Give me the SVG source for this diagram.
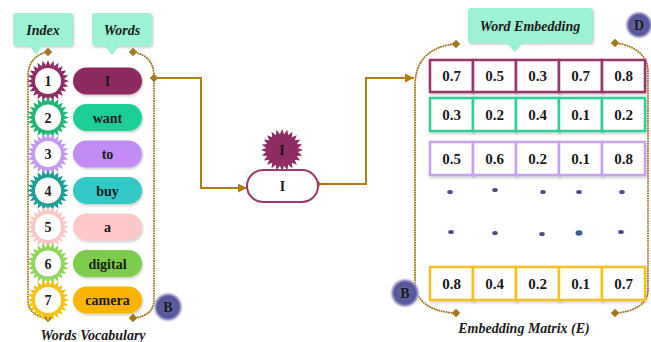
<svg xmlns="http://www.w3.org/2000/svg" xmlns:xlink="http://www.w3.org/1999/xlink" width="651" height="342" viewBox="0 0 651 342">
<style>
.t{font-family:"Liberation Serif","Times New Roman",serif;font-weight:bold;fill:#1a1a1a;text-anchor:middle}
.ti{font-family:"Liberation Serif","Times New Roman",serif;font-weight:bold;font-style:italic;fill:#1a1a1a;text-anchor:middle;font-size:14px}
.num{font-size:14px}
.val{font-size:15px}
.dot{fill:none;stroke:#a07820;stroke-width:2;stroke-dasharray:0.1 2.4;stroke-linecap:round}
.conn{fill:none;stroke:#b07d10;stroke-width:2}
.dia{fill:#a07820}
.call{fill:#9df2d4}
.cell{fill:#fff;stroke-width:2.5}
.edot{fill:#4e4c84}
</style>
<defs>
<polygon id="sun" points="21,0 15.86,2.09 20.28,5.44 14.78,6.12 18.19,10.5 12.69,9.74 14.85,14.85 9.74,12.69 10.5,18.19 6.12,14.78 5.44,20.28 2.09,15.86 0,21 -2.09,15.86 -5.44,20.28 -6.12,14.78 -10.5,18.19 -9.74,12.69 -14.85,14.85 -12.69,9.74 -18.19,10.5 -14.78,6.12 -20.28,5.44 -15.86,2.09 -21,0 -15.86,-2.09 -20.28,-5.44 -14.78,-6.12 -18.19,-10.5 -12.69,-9.74 -14.85,-14.85 -9.74,-12.69 -10.5,-18.19 -6.12,-14.78 -5.44,-20.28 -2.09,-15.86 0,-21 2.09,-15.86 5.44,-20.28 6.12,-14.78 10.5,-18.19 9.74,-12.69 14.85,-14.85 12.69,-9.74 18.19,-10.5 14.78,-6.12 20.28,-5.44 15.86,-2.09"/>
<radialGradient id="bg" cx="0.5" cy="0.5" r="0.5">
<stop offset="0" stop-color="#6a68aa"/>
<stop offset="0.7" stop-color="#57559a"/>
<stop offset="0.82" stop-color="#8a88bc"/>
<stop offset="1" stop-color="#d8d8ec" stop-opacity="0.3"/>
</radialGradient>
<filter id="sh" x="-20%" y="-20%" width="140%" height="140%">
<feDropShadow dx="1" dy="1.5" stdDeviation="1.2" flood-color="#000" flood-opacity="0.22"/>
</filter>
<marker id="arr" markerUnits="userSpaceOnUse" markerWidth="9" markerHeight="9" refX="9" refY="4.5" orient="auto">
<path d="M0,0 L9,4.5 L0,9 Z" fill="#b07d10"/>
</marker>
</defs>

<g id="callout-index">
<rect x="13" y="13" width="60" height="33" rx="3" class="call" filter="url(#sh)"/>
<polygon points="29,45 43,45 36,55" class="call"/>
<text x="43" y="35" class="ti">Index</text>
</g>
<g id="callout-words">
<rect x="92" y="13" width="60" height="33" rx="3" class="call" filter="url(#sh)"/>
<polygon points="104,45 120,45 112,55" class="call"/>
<text x="122" y="35" class="ti">Words</text>
</g>

<g id="vocab-bracket">
<path class="dot" d="M48,52 C36,54 28,62 28,76 L28,300 C28,311 36,317 48,318"/>
<path class="dot" d="M133,52 C146,54 154,62 154,76 L154,300 C154,311 146,317 133,318"/>
<rect x="45" y="49" width="6" height="6" class="dia" transform="rotate(45 48 52)"/>
<rect x="130" y="49" width="6" height="6" class="dia" transform="rotate(45 133 52)"/>
<rect x="45" y="315" width="6" height="6" class="dia" transform="rotate(45 48 318)"/>
<rect x="130" y="315" width="6" height="6" class="dia" transform="rotate(45 133 318)"/>
<rect x="151" y="75" width="6" height="6" class="dia" transform="rotate(45 154 78)"/>
</g>

<g id="row1">
<use xlink:href="#sun" transform="translate(48 81)" fill="#8e2c63"/>
<circle cx="48" cy="81" r="13" fill="#fff"/>
<text x="48" y="86" class="t num">1</text>
<rect x="73" y="67.5" width="69" height="27" rx="13.5" fill="#8e2a62" filter="url(#sh)"/>
<text x="107.5" y="86" class="t num">I</text>
</g>
<g id="row2">
<use xlink:href="#sun" transform="translate(48 117.5)" fill="#22b573"/>
<circle cx="48" cy="117.5" r="13" fill="#fff"/>
<text x="48" y="122.5" class="t num">2</text>
<rect x="73" y="104" width="69" height="27" rx="13.5" fill="#1fcf98" filter="url(#sh)"/>
<text x="107.5" y="122.5" class="t num">want</text>
</g>
<g id="row3">
<use xlink:href="#sun" transform="translate(48 154)" fill="#c49af0"/>
<circle cx="48" cy="154" r="13" fill="#fff"/>
<text x="48" y="159" class="t num">3</text>
<rect x="73" y="140.5" width="69" height="27" rx="13.5" fill="#c28cf4" filter="url(#sh)"/>
<text x="107.5" y="159" class="t num">to</text>
</g>
<g id="row4">
<use xlink:href="#sun" transform="translate(48 190.5)" fill="#1a9e96"/>
<circle cx="48" cy="190.5" r="13" fill="#fff"/>
<text x="48" y="195.5" class="t num">4</text>
<rect x="73" y="177" width="69" height="27" rx="13.5" fill="#30c9c6" filter="url(#sh)"/>
<text x="107.5" y="195.5" class="t num">buy</text>
</g>
<g id="row5">
<use xlink:href="#sun" transform="translate(48 227)" fill="#f8c8c8"/>
<circle cx="48" cy="227" r="13" fill="#fff"/>
<text x="48" y="232" class="t num">5</text>
<rect x="73" y="213.5" width="69" height="27" rx="13.5" fill="#fdc8c8" filter="url(#sh)"/>
<text x="107.5" y="232" class="t num">a</text>
</g>
<g id="row6">
<use xlink:href="#sun" transform="translate(48 263.5)" fill="#8fd65a"/>
<circle cx="48" cy="263.5" r="13" fill="#fff"/>
<text x="48" y="268.5" class="t num">6</text>
<rect x="73" y="250" width="69" height="27" rx="13.5" fill="#7dcc4c" filter="url(#sh)"/>
<text x="107.5" y="268.5" class="t num">digital</text>
</g>
<g id="row7">
<use xlink:href="#sun" transform="translate(48 300)" fill="#f2c416"/>
<circle cx="48" cy="300" r="13" fill="#fff"/>
<text x="48" y="305" class="t num">7</text>
<rect x="73" y="286.5" width="69" height="27" rx="13.5" fill="#f8b400" filter="url(#sh)"/>
<text x="107.5" y="305" class="t num">camera</text>
</g>

<g id="badge-b-left">
<circle cx="168" cy="307" r="15" fill="url(#bg)"/>
<text x="168" y="312" class="t num" fill="#1a1a40">B</text>
</g>

<text x="93" y="340" class="ti">Words Vocabulary</text>

<g id="connectors">
<path class="conn" d="M154,78 H201 V188 H247" marker-end="url(#arr)"/>
<path class="conn" d="M318,184 H366 V78 H414" marker-end="url(#arr)"/>
<rect x="315.5" y="181.5" width="5" height="5" class="dia" transform="rotate(45 318 184)"/>
</g>

<g id="lookup">
<use xlink:href="#sun" transform="translate(282 150)" fill="#8e2c63"/>
<text x="282" y="155" class="t num">I</text>
<rect x="247" y="170" width="71" height="32" rx="16" fill="#fff" stroke="#9a3a6a" stroke-width="2"/>
<text x="282.5" y="191" class="t num">I</text>
</g>

<g id="callout-embedding">
<rect x="468" y="8" width="125" height="35" rx="3" class="call" filter="url(#sh)"/>
<polygon points="505,42 524,42 515,52" class="call"/>
<text x="530" y="31" class="ti">Word Embedding</text>
</g>

<g id="badge-d">
<circle cx="639" cy="25" r="14" fill="url(#bg)"/>
<text x="639" y="30" class="t num" fill="#1a1a40">D</text>
</g>

<g id="matrix-bracket">
<path class="dot" d="M456,44 C430,46 415,60 415,86 L415,282 C415,301 430,312 456,313"/>
<path class="dot" d="M615,43 C634,45 648,55 648,72 L648,290 C648,304 634,312 615,313"/>
<rect x="453" y="41" width="6" height="6" class="dia" transform="rotate(45 456 44)"/>
<rect x="612" y="40" width="6" height="6" class="dia" transform="rotate(45 615 43)"/>
<rect x="453" y="310" width="6" height="6" class="dia" transform="rotate(45 456 313)"/>
<rect x="612" y="310" width="6" height="6" class="dia" transform="rotate(45 615 313)"/>
</g>

<g id="emb-row1" stroke="#9a3567">
<rect x="430" y="60" width="43" height="32" class="cell" filter="url(#sh)"/>
<rect x="473" y="60" width="43" height="32" class="cell" filter="url(#sh)"/>
<rect x="516" y="60" width="43" height="32" class="cell" filter="url(#sh)"/>
<rect x="559" y="60" width="43" height="32" class="cell" filter="url(#sh)"/>
<rect x="602" y="60" width="43" height="32" class="cell" filter="url(#sh)"/>
<g stroke="none">
<text x="451.5" y="81" class="t val">0.7</text>
<text x="494.5" y="81" class="t val">0.5</text>
<text x="537.5" y="81" class="t val">0.3</text>
<text x="580.5" y="81" class="t val">0.7</text>
<text x="623.5" y="81" class="t val">0.8</text>
</g>
</g>
<g id="emb-row2" stroke="#2dcf98">
<rect x="430" y="98" width="43" height="33" class="cell" filter="url(#sh)"/>
<rect x="473" y="98" width="43" height="33" class="cell" filter="url(#sh)"/>
<rect x="516" y="98" width="43" height="33" class="cell" filter="url(#sh)"/>
<rect x="559" y="98" width="43" height="33" class="cell" filter="url(#sh)"/>
<rect x="602" y="98" width="43" height="33" class="cell" filter="url(#sh)"/>
<g stroke="none">
<text x="451.5" y="119.5" class="t val">0.3</text>
<text x="494.5" y="119.5" class="t val">0.2</text>
<text x="537.5" y="119.5" class="t val">0.4</text>
<text x="580.5" y="119.5" class="t val">0.1</text>
<text x="623.5" y="119.5" class="t val">0.2</text>
</g>
</g>
<g id="emb-row3" stroke="#c7a2f2">
<rect x="430" y="142" width="43" height="33" class="cell" filter="url(#sh)"/>
<rect x="473" y="142" width="43" height="33" class="cell" filter="url(#sh)"/>
<rect x="516" y="142" width="43" height="33" class="cell" filter="url(#sh)"/>
<rect x="559" y="142" width="43" height="33" class="cell" filter="url(#sh)"/>
<rect x="602" y="142" width="43" height="33" class="cell" filter="url(#sh)"/>
<g stroke="none">
<text x="451.5" y="163.5" class="t val">0.5</text>
<text x="494.5" y="163.5" class="t val">0.6</text>
<text x="537.5" y="163.5" class="t val">0.2</text>
<text x="580.5" y="163.5" class="t val">0.1</text>
<text x="623.5" y="163.5" class="t val">0.8</text>
</g>
</g>
<g id="emb-dots">
<ellipse cx="450" cy="192" rx="2.8" ry="2" class="edot"/>
<ellipse cx="495" cy="190" rx="2.8" ry="2" class="edot"/>
<ellipse cx="543" cy="192" rx="2.8" ry="2" class="edot"/>
<ellipse cx="579" cy="192" rx="2.8" ry="2" class="edot"/>
<ellipse cx="622" cy="192" rx="2.8" ry="2" class="edot"/>
<ellipse cx="451" cy="232" rx="2.8" ry="2" class="edot"/>
<ellipse cx="495" cy="233" rx="2.8" ry="2" class="edot"/>
<ellipse cx="542" cy="234" rx="2.8" ry="2" class="edot"/>
<ellipse cx="579" cy="233" rx="3.5" ry="2.8" fill="#3d6090"/>
<ellipse cx="621" cy="232" rx="2.8" ry="2" class="edot"/>
</g>
<g id="emb-rowN" stroke="#f5c022">
<rect x="430" y="267" width="43" height="33" class="cell" filter="url(#sh)"/>
<rect x="473" y="267" width="43" height="33" class="cell" filter="url(#sh)"/>
<rect x="516" y="267" width="43" height="33" class="cell" filter="url(#sh)"/>
<rect x="559" y="267" width="43" height="33" class="cell" filter="url(#sh)"/>
<rect x="602" y="267" width="43" height="33" class="cell" filter="url(#sh)"/>
<g stroke="none">
<text x="451.5" y="288.5" class="t val">0.8</text>
<text x="494.5" y="288.5" class="t val">0.4</text>
<text x="537.5" y="288.5" class="t val">0.2</text>
<text x="580.5" y="288.5" class="t val">0.1</text>
<text x="623.5" y="288.5" class="t val">0.7</text>
</g>
</g>

<g id="badge-b-right">
<circle cx="405" cy="293" r="15" fill="url(#bg)"/>
<text x="405" y="298" class="t num" fill="#1a1a40">B</text>
</g>

<text x="524" y="333" class="ti">Embedding Matrix (E)</text>
</svg>
